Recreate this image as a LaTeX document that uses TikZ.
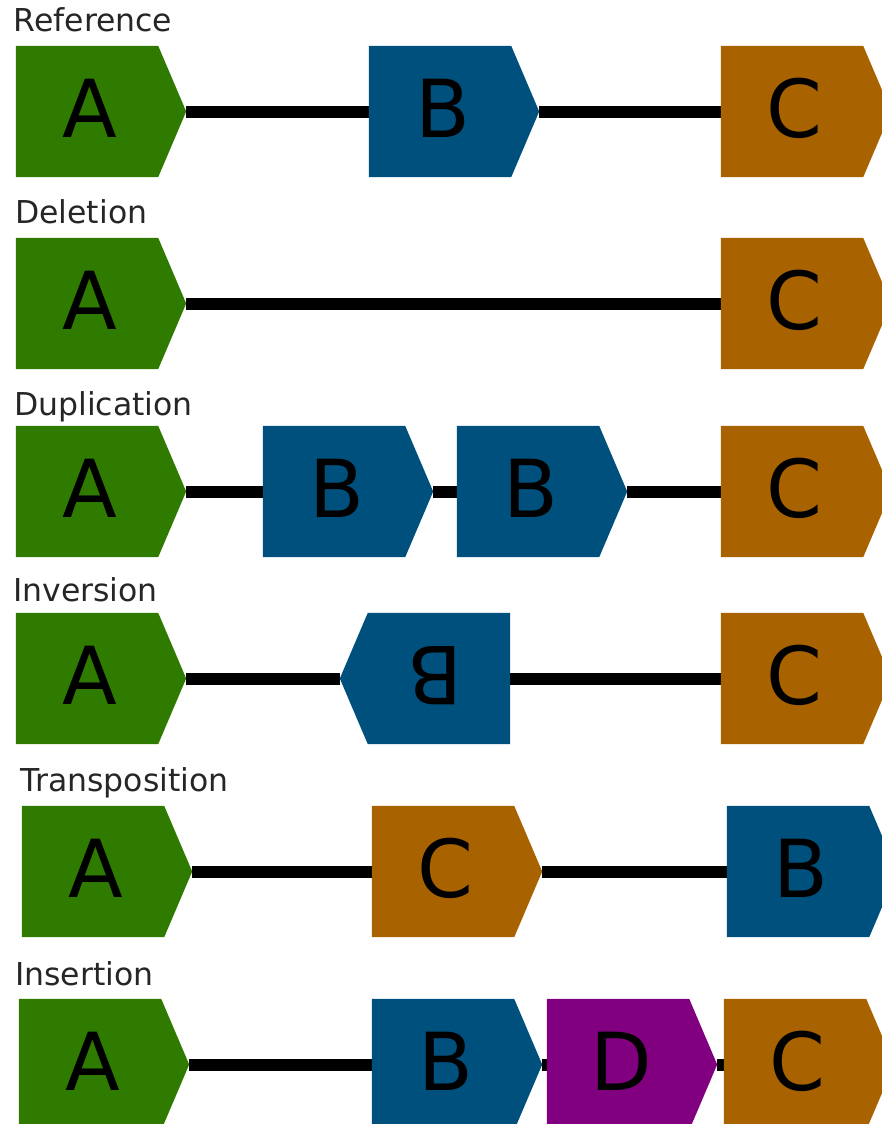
\documentclass[tikz,border=0pt]{standalone}
\usepackage{fontspec}
\setmainfont{DejaVu Sans}
\usetikzlibrary{backgrounds}

\definecolor{genegreen}{RGB}{47,123,0}
\definecolor{geneblue}{RGB}{0,80,126}
\definecolor{geneorange}{RGB}{168,98,0}
\definecolor{genepurple}{RGB}{128,0,128}

\tikzset{
  genebox/.style={rectangle, inner sep=0pt, minimum width=170pt, minimum height=131pt},
  geneletter/.style={inner sep=0pt, font=\fontsize{80pt}{80pt}\selectfont},
  rowlabel/.style={inner sep=0pt, anchor=base west, text=black!85, font=\fontsize{31.5pt}{31.5pt}\selectfont},
  link/.style={line width=12pt, black},
}

% gene pointing right: name, left x, top y, colour, letter
\newcommand{\generight}[5]{%
  \node[genebox] (#1) at (#2+85, #3+65.5) {};
  \fill[#4] (#1.north west) -- ([xshift=-28pt]#1.north east) -- (#1.east)
     -- ([xshift=-28pt]#1.south east) -- (#1.south west) -- cycle;
  \node[geneletter, anchor=base] (#1-t) at ([xshift=74pt,yshift=-92pt]#1.north west) {#5};
}
% gene pointing left (inverted): name, left x, top y, colour, letter
\newcommand{\geneleft}[5]{%
  \node[genebox] (#1) at (#2+85, #3+65.5) {};
  \fill[#4] (#1.north east) -- ([xshift=28pt]#1.north west) -- (#1.west)
     -- ([xshift=28pt]#1.south west) -- (#1.south east) -- cycle;
  \node[geneletter, anchor=base, rotate=180] (#1-t) at ([xshift=95pt,yshift=-34pt]#1.north west) {#5};
}

\begin{document}
\begin{tikzpicture}[x=1pt, y=-1pt]
\useasboundingbox (0,0) rectangle (882,1124);

% Reference
\node[rowlabel] (l1) at (13.5,32) {Reference};
\generight{r1a}{16}{46}{genegreen}{A}
\generight{r1b}{369}{46}{geneblue}{B}
\generight{r1c}{721}{46}{geneorange}{C}

% Deletion
\node[rowlabel] (l2) at (15,223) {Deletion};
\generight{r2a}{16}{238}{genegreen}{A}
\generight{r2c}{721}{238}{geneorange}{C}

% Duplication
\node[rowlabel] (l3) at (14,415) {Duplication};
\generight{r3a}{16}{426}{genegreen}{A}
\generight{r3b}{263}{426}{geneblue}{B}
\generight{r3d}{457}{426}{geneblue}{B}
\generight{r3c}{721}{426}{geneorange}{C}

% Inversion
\node[rowlabel] (l4) at (13,601) {Inversion};
\generight{r4a}{16}{613}{genegreen}{A}
\geneleft{r4b}{340}{613}{geneblue}{B}
\generight{r4c}{721}{613}{geneorange}{C}

% Transposition
\node[rowlabel] (l5) at (20.5,791.5) {Transposition};
\generight{r5a}{22}{806}{genegreen}{A}
\generight{r5c}{372}{806}{geneorange}{C}
\generight{r5b}{727}{806}{geneblue}{B}

% Insertion
\node[rowlabel] (l6) at (15,985) {Insertion};
\generight{r6a}{19}{999}{genegreen}{A}
\generight{r6b}{372}{999}{geneblue}{B}
\generight{r6d}{547}{999}{genepurple}{D}
\generight{r6c}{724}{999}{geneorange}{C}

% connectors behind the genes
\begin{pgfonlayer}{background}
  \draw[link] (r1a.east) -- (r1b.west);
  \draw[link] (r1b.east) -- (r1c.west);
  \draw[link] (r2a.east) -- (r2c.west);
  \draw[link] (r3a.east) -- (r3b.west);
  \draw[link] (r3b.east) -- (r3d.west);
  \draw[link] (r3d.east) -- (r3c.west);
  \draw[link] (r4a.east) -- (r4b.west);
  \draw[link] (r4b.east) -- (r4c.west);
  \draw[link] (r5a.east) -- (r5c.west);
  \draw[link] (r5c.east) -- (r5b.west);
  \draw[link] (r6a.east) -- (r6b.west);
  \draw[link] (r6b.east) -- (r6d.west);
  \draw[link] (r6d.east) -- (r6c.west);
\end{pgfonlayer}
\end{tikzpicture}
\end{document}
